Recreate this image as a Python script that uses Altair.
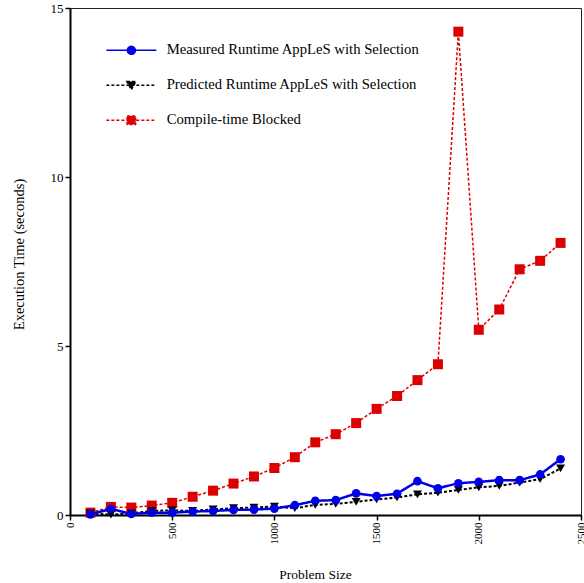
import altair as alt
import pandas as pd

sizes = [100, 200, 300, 400, 500, 600, 700, 800, 900, 1000, 1100, 1200,
         1300, 1400, 1500, 1600, 1700, 1800, 1900, 2000, 2100, 2200, 2300, 2400]
measured = [0.02, 0.18, 0.03, 0.07, 0.07, 0.10, 0.12, 0.15, 0.16, 0.19, 0.29, 0.42,
            0.44, 0.64, 0.56, 0.63, 1.00, 0.79, 0.94, 0.98, 1.03, 1.03, 1.20, 1.65]
predicted = [0.05, 0.01, 0.05, 0.12, 0.14, 0.12, 0.17, 0.20, 0.22, 0.25, 0.20, 0.30,
             0.33, 0.39, 0.46, 0.52, 0.61, 0.66, 0.74, 0.82, 0.86, 0.96, 1.06, 1.38]
blocked = [0.07, 0.24, 0.22, 0.28, 0.36, 0.54, 0.72, 0.93, 1.14, 1.39, 1.71, 2.15,
           2.39, 2.72, 3.14, 3.52, 3.99, 4.46, 14.3, 5.48, 6.08, 7.27, 7.52, 8.05]

S_MEAS = "Measured Runtime AppLeS with Selection"
S_PRED = "Predicted Runtime AppLeS with Selection"
S_BLOC = "Compile-time Blocked"
series_names = [S_MEAS, S_PRED, S_BLOC]
series_colors = ["#0000e6", "#000000", "#dd0000"]

x_ticks = [0, 500, 1000, 1500, 2000, 2500]
y_ticks = [0, 5, 10, 15]

df = pd.concat([
    pd.DataFrame({"size": sizes, "time": measured, "series": S_MEAS}),
    pd.DataFrame({"size": sizes, "time": predicted, "series": S_PRED}),
    pd.DataFrame({"size": sizes, "time": blocked, "series": S_BLOC}),
], ignore_index=True)

FONT = "Liberation Serif"

# legend symbols: a line segment with a marker in the middle
line_path = "M-5,0 L5,0 "
circ = "M0.8,0 A0.8,0.8 0 1,1 -0.8,0 A0.8,0.8 0 1,1 0.8,0 Z"
tri = "M-0.9,-0.75 L0.9,-0.75 L0,0.85 Z"
sq = "M-0.85,-0.85 L0.85,-0.85 L0.85,0.85 L-0.85,0.85 Z"
legend_shapes = [line_path + circ, line_path + tri, line_path + sq]
legend_dashes = [[1, 0], [3, 2], [3, 2]]

legend = alt.Legend(
    title=None, orient="none", legendX=54, legendY=35, padding=0,
    symbolSize=100, labelOffset=28, rowPadding=19, labelFont=FONT,
    labelFontSize=14.7, labelColor="black", labelLimit=400,
    symbolStrokeWidth=1.5, symbolOpacity=1,
)

color = alt.Color("series:N", scale=alt.Scale(domain=series_names, range=series_colors), legend=legend)
stroke = alt.Stroke("series:N", scale=alt.Scale(domain=series_names, range=series_colors), legend=legend)
shape = alt.Shape("series:N", scale=alt.Scale(domain=series_names, range=legend_shapes), legend=legend)
dash = alt.StrokeDash("series:N", scale=alt.Scale(domain=series_names, range=legend_dashes), legend=legend)

x = alt.X("size:Q", scale=alt.Scale(domain=[0, 2500], nice=False),
          axis=alt.Axis(values=x_ticks, labelAngle=270, format="d", title="Problem Size",
                        titleX=245, titleY=63, titleBaseline="alphabetic", titleAlign="center"))
y = alt.Y("time:Q", scale=alt.Scale(domain=[0, 15], nice=False),
          axis=alt.Axis(values=y_ticks, title="Execution Time (seconds)",
                        titleAngle=270, titleX=-51, titleY=246, titleBaseline="middle", titleAlign="center"))

base = alt.Chart(df)
styles = {
    S_BLOC: dict(dash=[3, 2], width=1.5, shape="square", size=100),
    S_PRED: dict(dash=[3, 2], width=2, shape="triangle-down", size=80),
    S_MEAS: dict(dash=[1, 0], width=2.5, shape="circle", size=75),
}
layers = []
for s in [S_BLOC, S_PRED, S_MEAS]:
    st = styles[s]
    b = base.transform_filter(alt.datum.series == s)
    layers.append(b.mark_line(strokeDash=st["dash"], strokeWidth=st["width"]).encode(x=x, y=y, color=color))
    layers.append(b.mark_point(filled=True, shape=st["shape"], size=st["size"], opacity=1).encode(x=x, y=y, color=color))

# legend-only layer (no rows pass the filter; the legend comes from the scale domains)
legend_layer = base.transform_filter(alt.datum.time < -1).mark_point(
    filled=True, strokeWidth=1.5, opacity=1
).encode(x=x, y=y, color=color, stroke=stroke, shape=shape, strokeDash=dash)
layers.append(legend_layer)

chart = alt.layer(*layers).properties(
    width=511, height=507,
    autosize=alt.AutoSizeParams(type="none"),
    padding={"left": 70, "top": 8, "right": 3, "bottom": 68},
).configure_view(
    stroke="#222222", strokeWidth=1
).configure_axis(
    grid=False, domainColor="black", domainWidth=2, tickColor="black", tickWidth=1.5,
    tickSize=5, labelFont=FONT, labelFontSize=11, labelColor="black",
    titleFont=FONT, titleFontWeight="normal", titleColor="black",
).configure_axisX(titleFontSize=13.5, labelFontSize=11
).configure_axisY(titleFontSize=14.5, labelFontSize=13)

chart.save("out.html", embed_options={"renderer": "svg", "actions": False})
